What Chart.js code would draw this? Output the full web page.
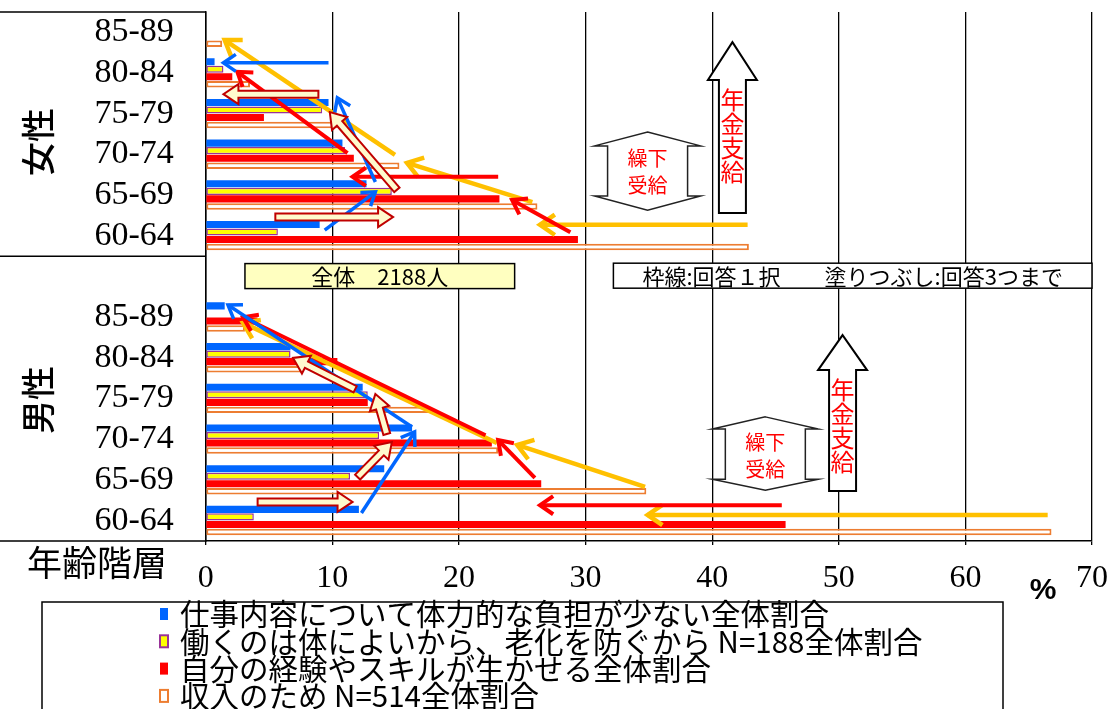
<!DOCTYPE html>
<html>
<head>
<meta charset="utf-8">
<script src="https://cdn.jsdelivr.net/npm/chart.js@4/dist/chart.umd.min.js"></script>
<style>
  html, body { margin: 0; padding: 0; background: #ffffff; }
  #wrap { width: 1118px; height: 709px; }
</style>
</head>
<body>
<div id="wrap"><canvas id="chart" width="1118" height="709"></canvas></div>
<script>
// ---- values (percent of respondents, by age group; women on top, men below) ----
const ageGroups = ['85-89', '80-84', '75-79', '70-74', '65-69', '60-64'];
const categoryLabels = [...ageGroups, '', ...ageGroups];
const xTicks = [0, 10, 20, 30, 40, 50, 60, 70];

const seriesNames = [
  '仕事内容について体力的な負担が少ない全体割合',
  '働くのは体によいから、老化を防ぐから N=188全体割合',
  '自分の経験やスキルが生かせる全体割合',
  '収入のため N=514全体割合'
];
const lightWorkload = [0, 0.7, 9.7, 10.8, 12.7, 9.0, null, 1.5, 6.7, 12.4, 16.3, 14.1, 12.1];
const goodForHealth = [0, 1.4, 9.2, 11.0, 14.7, 5.7, null, 0, 6.7, 12.8, 13.7, 11.4, 3.8];
const useExperience = [0, 2.1, 4.6, 11.7, 23.2, 29.4, null, 4.1, 10.4, 12.8, 22.6, 26.5, 45.8];
const forIncome     = [1.3, 3.5, 10.4, 15.3, 26.2, 42.9, null, 3.1, 7.7, 17.6, 23.1, 34.8, 66.8];

// ---- trend arrows, in chart units: [x1, y1, x2, y2]; y is a fractional category index ----
const incomeTrend = [
  [42.8, 4.73, 26.4, 4.73], [25.8, 4.17, 15.9, 3.21], [14.95, 3.01, 1.5, 0.19],
  [66.5, 11.86, 34.9, 11.86], [34.7, 11.17, 24.6, 10.14], [23.0, 10.09, 2.95, 7.14]
];
const experienceTrend = [
  [28.8, 4.91, 24.2, 4.12], [23.1, 3.55, 11.6, 3.55], [11.2, 2.97, 2.5, 0.97],
  [45.5, 11.62, 26.4, 11.62], [26.0, 10.95, 23.1, 10.02], [22.1, 9.9, 2.95, 7.0]
];
const workloadTrend = [
  [9.4, 4.86, 13.4, 3.92], [13.4, 3.68, 10.4, 1.61], [9.7, 0.75, 1.4, 0.75],
  [12.3, 11.81, 16.5, 9.82], [16.3, 9.7, 1.76, 6.7]
];
const healthTrend = [
  [5.5, 4.54, 14.8, 4.54], [15.1, 3.87, 9.8, 1.96], [8.9, 1.52, 1.4, 1.52],
  [4.1, 11.54, 11.6, 11.54], [12.0, 10.93, 14.7, 10.07], [14.3, 9.87, 13.4, 8.89], [11.8, 8.77, 6.9, 8.0]
];
// pension start arrows and deferral marks
const pensionMarks = [
  { x: 41.6, tip: 0.24, neck: 1.17, base: 4.44 },
  { x: 50.3, tip: 7.44, neck: 8.3, base: 11.27 }
];
const deferralMarks = [
  { x: 34.9, top: 2.45, shoulder: 2.79, hip: 4.02, bottom: 4.37 },
  { x: 44.2, top: 9.45, shoulder: 9.75, hip: 10.98, bottom: 11.25 }
];
const noteBoxes = [
  { x1: 3.1, x2: 24.4, y: 5.99, text: '全体　2188人', fill: '#FFFFC0' },
  { x1: 32.2, x2: 70, y: 5.98, text: '枠線:回答１択　　塗りつぶし:回答3つまで', fill: '#FFFFFF' }
];

const COLORS = {
  blue: '#0066FF', yellow: '#FFFF00', purple: '#993399', red: '#FF0000',
  orange: '#ED7D31', gold: '#FFC000', cream: '#FFFACD', darkRed: '#C00000'
};
const JP = '"Noto Sans CJK JP", "Noto Sans", sans-serif';

function lineArrow(ctx, x1, y1, x2, y2, color, width, head) {
  const a = Math.atan2(y2 - y1, x2 - x1);
  ctx.save();
  ctx.strokeStyle = color;
  ctx.lineWidth = width;
  ctx.lineCap = 'butt';
  ctx.lineJoin = 'miter';
  ctx.beginPath();
  ctx.moveTo(x1, y1);
  ctx.lineTo(x2, y2);
  ctx.stroke();
  ctx.beginPath();
  ctx.moveTo(x2 - head * Math.cos(a - 0.6), y2 - head * Math.sin(a - 0.6));
  ctx.lineTo(x2, y2);
  ctx.lineTo(x2 - head * Math.cos(a + 0.6), y2 - head * Math.sin(a + 0.6));
  ctx.stroke();
  ctx.restore();
}

function blockArrow(ctx, x1, y1, x2, y2) {
  const a = Math.atan2(y2 - y1, x2 - x1);
  const L = Math.hypot(x2 - x1, y2 - y1);
  const bw = 3.5, hw = 10, hl = 15;
  ctx.save();
  ctx.translate(x1, y1);
  ctx.rotate(a);
  ctx.beginPath();
  ctx.moveTo(0, -bw);
  ctx.lineTo(L - hl, -bw);
  ctx.lineTo(L - hl, -hw);
  ctx.lineTo(L, 0);
  ctx.lineTo(L - hl, hw);
  ctx.lineTo(L - hl, bw);
  ctx.lineTo(0, bw);
  ctx.closePath();
  ctx.fillStyle = COLORS.cream;
  ctx.fill();
  ctx.strokeStyle = COLORS.darkRed;
  ctx.lineWidth = 2;
  ctx.stroke();
  ctx.restore();
}

const annotations = {
  id: 'annotations',
  afterDatasetsDraw(chart) {
    const { ctx, scales: { x, y } } = chart;
    const px = v => x.getPixelForValue(v);
    const py = v => y.getPixelForValue(v);

    incomeTrend.forEach(s => lineArrow(ctx, px(s[0]), py(s[1]), px(s[2]), py(s[3]), COLORS.gold, 4.5, 18));
    experienceTrend.forEach(s => lineArrow(ctx, px(s[0]), py(s[1]), px(s[2]), py(s[3]), COLORS.red, 4, 16));
    workloadTrend.forEach(s => lineArrow(ctx, px(s[0]), py(s[1]), px(s[2]), py(s[3]), COLORS.blue, 3.5, 15));
    healthTrend.forEach(s => blockArrow(ctx, px(s[0]), py(s[1]), px(s[2]), py(s[3])));

    // note boxes in the blank row
    noteBoxes.forEach(b => {
      const left = px(b.x1), right = px(b.x2), cy = py(b.y), h = 25;
      ctx.save();
      ctx.fillStyle = b.fill;
      ctx.fillRect(left, cy - h / 2, right - left, h);
      ctx.strokeStyle = '#000';
      ctx.lineWidth = 1.5;
      ctx.strokeRect(left, cy - h / 2, right - left, h);
      ctx.fillStyle = '#000';
      ctx.font = '22px ' + JP;
      ctx.textAlign = 'center';
      ctx.textBaseline = 'middle';
      ctx.fillText(b.text, (left + right) / 2, cy + 1);
      ctx.restore();
    });

    // upward arrows marked 年金支給
    pensionMarks.forEach(m => {
      const cx = px(m.x), tip = py(m.tip), neck = py(m.neck), base = py(m.base);
      const sw = 13.5, hw = 24.5;
      ctx.save();
      ctx.beginPath();
      ctx.moveTo(cx, tip);
      ctx.lineTo(cx + hw, neck);
      ctx.lineTo(cx + sw, neck);
      ctx.lineTo(cx + sw, base);
      ctx.lineTo(cx - sw, base);
      ctx.lineTo(cx - sw, neck);
      ctx.lineTo(cx - hw, neck);
      ctx.closePath();
      ctx.fillStyle = '#fff';
      ctx.fill();
      ctx.strokeStyle = '#000';
      ctx.lineWidth = 2;
      ctx.stroke();
      ctx.fillStyle = COLORS.red;
      ctx.font = '24px ' + JP;
      ctx.textAlign = 'center';
      ctx.textBaseline = 'middle';
      const chars = ['年', '金', '支', '給'];
      const start = neck + 20;
      chars.forEach((c, i) => ctx.fillText(c, cx, start + i * 24));
      ctx.restore();
    });

    // up-down marks labelled 繰下受給
    deferralMarks.forEach(m => {
      const cx = px(m.x), top = py(m.top), sh = py(m.shoulder), hip = py(m.hip), bot = py(m.bottom);
      const hw = 53, bw = 40;
      ctx.save();
      ctx.beginPath();
      ctx.moveTo(cx, top);
      ctx.lineTo(cx + hw, sh);
      ctx.lineTo(cx + bw, sh);
      ctx.lineTo(cx + bw, hip);
      ctx.lineTo(cx + hw, hip);
      ctx.lineTo(cx, bot);
      ctx.lineTo(cx - hw, hip);
      ctx.lineTo(cx - bw, hip);
      ctx.lineTo(cx - bw, sh);
      ctx.lineTo(cx - hw, sh);
      ctx.closePath();
      ctx.fillStyle = '#fff';
      ctx.fill();
      ctx.strokeStyle = '#222';
      ctx.lineWidth = 1.5;
      ctx.stroke();
      ctx.fillStyle = COLORS.red;
      ctx.font = '20px ' + JP;
      ctx.textAlign = 'center';
      ctx.textBaseline = 'middle';
      const mid = (sh + hip) / 2;
      ctx.fillText('繰下', cx, mid - 12);
      ctx.fillText('受給', cx, mid + 15);
      ctx.restore();
    });
  },
  afterDraw(chart) {
    const { ctx, chartArea, scales: { x, y } } = chart;
    ctx.save();
    // frame around the age labels
    ctx.strokeStyle = '#000';
    ctx.lineWidth = 1.5;
    const sep = y.getPixelForValue(5.5);
    ctx.beginPath();
    ctx.moveTo(0, chartArea.top); ctx.lineTo(chartArea.left, chartArea.top);
    ctx.moveTo(0, sep); ctx.lineTo(chartArea.left, sep);
    ctx.moveTo(0, chartArea.bottom); ctx.lineTo(chartArea.left, chartArea.bottom);
    ctx.stroke();

    // sex labels, rotated
    ctx.fillStyle = '#000';
    ctx.font = '500 34px ' + JP;
    ctx.textAlign = 'center';
    ctx.textBaseline = 'middle';
    [['女性', 142], ['男性', 400]].forEach(([t, cy]) => {
      ctx.save();
      ctx.translate(38, cy);
      ctx.rotate(-Math.PI / 2);
      ctx.fillText(t, 0, 0);
      ctx.restore();
    });

    // axis captions
    ctx.font = '35px ' + JP;
    ctx.textAlign = 'left';
    ctx.fillText('年齢階層', 27, 563);
    ctx.font = 'bold 30px "Liberation Sans", sans-serif';
    ctx.textAlign = 'center';
    ctx.fillText('%', 1043, 591);

    // legend
    const lx1 = 42, lx2 = 1003, ly1 = 602;
    ctx.fillStyle = '#fff';
    ctx.fillRect(lx1, ly1, lx2 - lx1, 720 - ly1);
    ctx.strokeStyle = '#000';
    ctx.lineWidth = 1.5;
    ctx.strokeRect(lx1, ly1, lx2 - lx1, 720 - ly1);
    ctx.font = '29.5px ' + JP;
    ctx.textAlign = 'left';
    ctx.textBaseline = 'middle';
    chart.data.datasets.forEach((ds, i) => {
      const cy = 614 + i * 27.3;
      ctx.fillStyle = ds.backgroundColor;
      ctx.fillRect(160, cy - 6, 8, 12);
      if (ds.borderWidth) {
        ctx.strokeStyle = ds.borderColor;
        ctx.lineWidth = 2;
        ctx.strokeRect(160, cy - 6, 8, 12);
      }
      ctx.fillStyle = '#000';
      ctx.fillText(ds.label, 180, cy);
    });
    ctx.restore();
  }
};

new Chart(document.getElementById('chart'), {
  type: 'bar',
  data: {
    labels: categoryLabels,
    datasets: [
      { label: seriesNames[0], data: lightWorkload, backgroundColor: COLORS.blue, borderWidth: 0 },
      { label: seriesNames[1], data: goodForHealth, backgroundColor: COLORS.yellow, borderColor: COLORS.purple, borderWidth: 1.5, borderSkipped: false },
      { label: seriesNames[2], data: useExperience, backgroundColor: COLORS.red, borderWidth: 0 },
      { label: seriesNames[3], data: forIncome, backgroundColor: '#FFFFFF', borderColor: COLORS.orange, borderWidth: 2, borderSkipped: false, barPercentage: 0.86 }
    ]
  },
  options: {
    indexAxis: 'y',
    responsive: false,
    animation: false,
    devicePixelRatio: 1,
    datasets: { bar: { categoryPercentage: 0.74, barPercentage: 0.94 } },
    layout: { padding: { left: 0, right: 26, top: 12, bottom: 0 } },
    plugins: { legend: { display: false }, tooltip: { enabled: false } },
    scales: {
      x: {
        type: 'linear',
        min: 0,
        max: 70,
        afterBuildTicks: s => { s.ticks = xTicks.map(v => ({ value: v })); },
        afterFit: s => { s.height = 168; s.paddingLeft = 0; s.paddingRight = 0; },
        ticks: {
          color: '#000',
          font: { family: '"Liberation Serif", serif', size: 32 },
          padding: 14,
          maxRotation: 0
        },
        grid: { color: '#000', lineWidth: 1.3, drawTicks: true, tickLength: 4, tickColor: '#000', tickWidth: 1.3 },
        border: { display: true, color: '#000', width: 1.5 }
      },
      y: {
        afterFit: s => { s.width = 205.7; s.paddingTop = 0; s.paddingBottom = 0; },
        ticks: {
          color: '#000',
          font: { family: '"Liberation Serif", serif', size: 34 },
          padding: 32,
          autoSkip: false
        },
        grid: { display: false, drawTicks: false },
        border: { display: true, color: '#000', width: 1.5 }
      }
    }
  },
  plugins: [annotations]
});
</script>
</body>
</html>
